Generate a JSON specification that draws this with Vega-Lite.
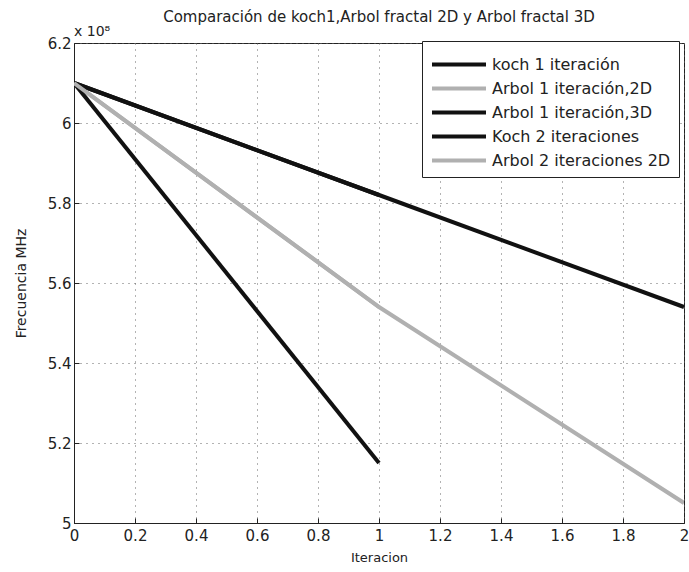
{
  "$schema": "https://vega.github.io/schema/vega-lite/v6.json",
  "width": 610,
  "height": 480,
  "autosize": {"type": "none"},
  "padding": {"left": 74, "top": 43, "right": 5, "bottom": 49},
  "background": "white",
  "config": {
    "font": "DejaVu Sans",
    "view": {"stroke": "#222", "strokeWidth": 1}
  },
  "title": {
    "text": "Comparación de koch1,Arbol fractal 2D y Arbol fractal 3D",
    "fontSize": 15,
    "fontWeight": "normal",
    "color": "#222",
    "anchor": "middle",
    "offset": 0
  },
  "datasets": {
    "lines": [
      {"serie": "koch 1 iteración", "iter": 0, "freq": 610000000},
      {"serie": "koch 1 iteración", "iter": 1, "freq": 582000000},
      {"serie": "Arbol 1 iteración,2D", "iter": 0, "freq": 610000000},
      {"serie": "Arbol 1 iteración,2D", "iter": 1, "freq": 554000000},
      {"serie": "Arbol 1 iteración,3D", "iter": 0, "freq": 610000000},
      {"serie": "Arbol 1 iteración,3D", "iter": 1, "freq": 515000000},
      {"serie": "Koch 2 iteraciones", "iter": 0, "freq": 610000000},
      {"serie": "Koch 2 iteraciones", "iter": 1, "freq": 582000000},
      {"serie": "Koch 2 iteraciones", "iter": 2, "freq": 554000000},
      {"serie": "Arbol 2 iteraciones 2D", "iter": 0, "freq": 610000000},
      {"serie": "Arbol 2 iteraciones 2D", "iter": 1, "freq": 554000000},
      {"serie": "Arbol 2 iteraciones 2D", "iter": 2, "freq": 505000000}
    ],
    "exp": [{"label": "x 10⁸", "iter": 0, "freq": 620000000}]
  },
  "layer": [
    {
      "data": {"name": "lines"},
      "mark": {"type": "line", "strokeWidth": 4, "clip": true},
      "encoding": {
        "x": {
          "field": "iter", "type": "quantitative",
          "scale": {"domain": [0, 2], "nice": false, "zero": false},
          "axis": {
            "title": "Iteracion", "titleFontSize": 13, "titleFontWeight": "normal", "titleColor": "#222", "titlePadding": 8,
            "values": [0, 0.2, 0.4, 0.6, 0.8, 1, 1.2, 1.4, 1.6, 1.8, 2],
            "labelExpr": "format(datum.value, '.1~f')",
            "labelFontSize": 15, "labelColor": "#222", "labelPadding": 10, "labelFlush": false,
            "tickSize": -5, "tickColor": "#222", "domainColor": "#222",
            "grid": true, "gridDash": [1, 5], "gridColor": "#666", "gridOpacity": 1
          }
        },
        "y": {
          "field": "freq", "type": "quantitative",
          "scale": {"domain": [500000000, 620000000], "nice": false, "zero": false},
          "axis": {
            "title": "Frecuencia MHz", "titleFontSize": 14, "titleFontWeight": "normal", "titleColor": "#222", "titlePadding": 19,
            "values": [500000000, 520000000, 540000000, 560000000, 580000000, 600000000, 620000000],
            "labelExpr": "format(datum.value/1e8, '.1~f')",
            "labelFontSize": 15, "labelColor": "#222", "labelPadding": 8, "labelFlush": false,
            "tickSize": -5, "tickColor": "#222", "domainColor": "#222",
            "grid": true, "gridDash": [1, 5], "gridColor": "#666", "gridOpacity": 1
          }
        },
        "color": {
          "field": "serie", "type": "nominal",
          "scale": {
            "domain": ["koch 1 iteración", "Arbol 1 iteración,2D", "Arbol 1 iteración,3D", "Koch 2 iteraciones", "Arbol 2 iteraciones 2D"],
            "range": ["#111111", "#b0b0b0", "#111111", "#111111", "#b0b0b0"]
          },
          "legend": {
            "title": null,
            "orient": "none",
            "legendX": 348,
            "legendY": -2,
            "direction": "vertical",
            "symbolType": "M-1,0H3",
            "symbolSize": 729,
            "symbolStrokeWidth": 4,
            "labelFontSize": 16,
            "labelColor": "#222",
            "labelLimit": 300,
            "labelOffset": 31,
            "rowPadding": 0,
            "padding": 8,
            "fillColor": "white",
            "strokeColor": "#222",
            "cornerRadius": 0
          }
        },
        "order": {"field": "iter"}
      }
    },
    {
      "data": {"name": "exp"},
      "mark": {"type": "text", "align": "left", "baseline": "bottom", "dy": -4, "fontSize": 14, "color": "#222"},
      "encoding": {
        "x": {"field": "iter", "type": "quantitative"},
        "y": {"field": "freq", "type": "quantitative"},
        "text": {"field": "label"}
      }
    }
  ]
}
